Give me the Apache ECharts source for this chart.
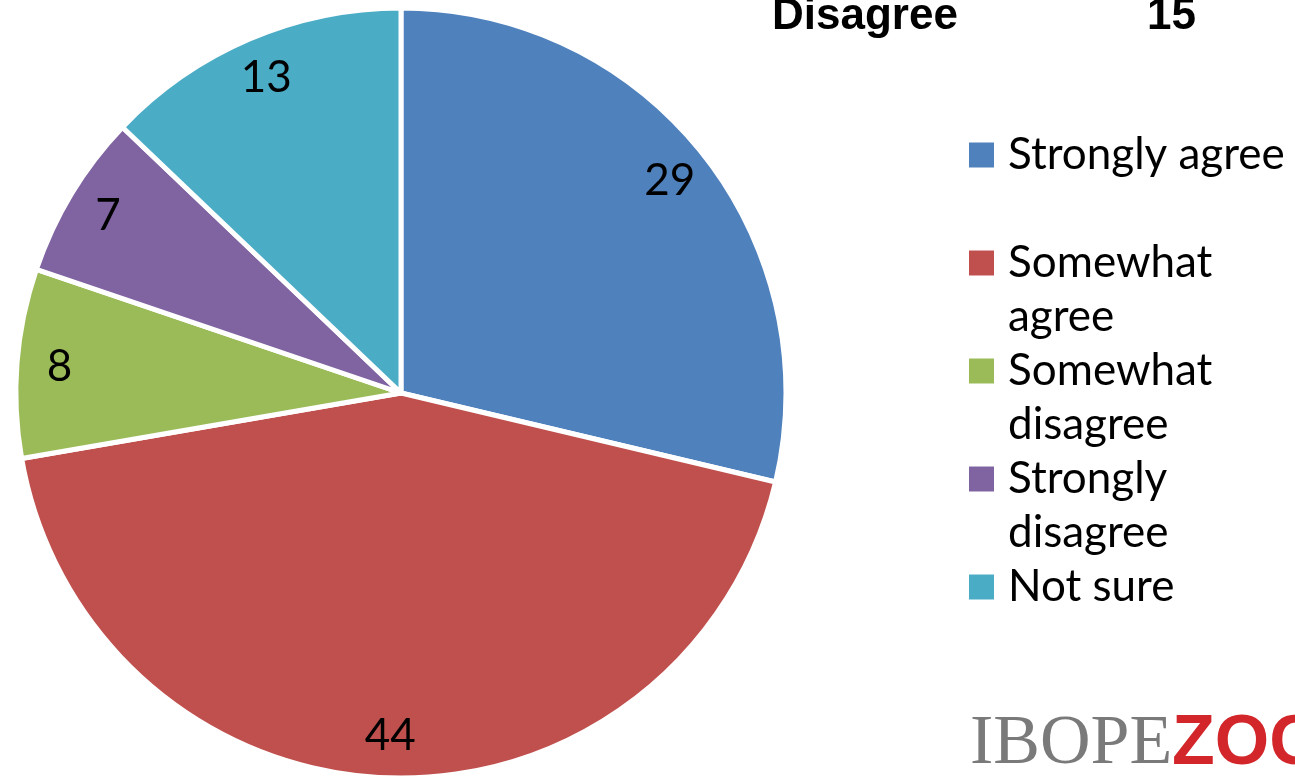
<!DOCTYPE html>
<html>
<head>
<meta charset="utf-8">
<script src="https://cdn.jsdelivr.net/npm/echarts@6/dist/echarts.min.js"></script>
<style>
html, body { margin: 0; padding: 0; background: #fff; }
#chart { width: 1295px; height: 778px; }
</style>
</head>
<body>
<div id="chart"></div>
<script>
var categories = ['Strongly agree', 'Somewhat agree', 'Somewhat disagree', 'Strongly disagree', 'Not sure'];
var legendLines = [['Strongly agree'], ['Somewhat', 'agree'], ['Somewhat', 'disagree'], ['Strongly', 'disagree'], ['Not sure']];
var values = [29, 44, 8, 7, 13];
var colors = ['#4F81BD', '#C0504D', '#9BBB59', '#8064A2', '#4BACC6'];
var headerLabel = 'Disagree';
var headerValue = '15';

var font = 'Lato';

var pieData = categories.map(function (name, i) {
    return { name: name, value: values[i], itemStyle: { color: colors[i] } };
});

var myChart = echarts.init(document.getElementById('chart'));

var option = {
    animation: false,
    legend: {
        orient: 'vertical',
        left: 967,
        top: 74,
        padding: 0,
        itemWidth: 27,
        itemHeight: 27,
        itemGap: -54,
        icon: 'rect',
        selectedMode: false,
        data: categories,
        formatter: function (name) {
            var l = legendLines[categories.indexOf(name)];
            return '\n' + l.join('\n') + (l.length === 1 ? '\n' : '');
        },
        textStyle: {
            fontFamily: font,
            fontSize: 44,
            lineHeight: 54,
            color: '#000',
            padding: [0, 0, 0, 8]
        }
    },
    graphic: [
        {
            type: 'text',
            x: 772,
            y: 17,
            style: {
                text: headerLabel,
                font: 'bold 44px "Liberation Sans"',
                fill: '#000',
                verticalAlign: 'middle'
            }
        },
        {
            type: 'text',
            x: 1147,
            y: 17,
            style: {
                text: headerValue,
                font: 'bold 44px "Liberation Sans"',
                fill: '#000',
                verticalAlign: 'middle'
            }
        },
        {
            type: 'text',
            x: 970,
            y: 745,
            style: {
                text: 'IBOPE',
                font: '70px "Liberation Serif"',
                fill: '#7a7a7a',
                verticalAlign: 'middle'
            }
        },
        {
            type: 'text',
            x: 1172,
            y: 745,
            style: {
                text: 'ZOG',
                font: 'bold 70px "Liberation Sans"',
                fill: '#d3262b',
                verticalAlign: 'middle'
            }
        }
    ],
    series: [
        {
            type: 'pie',
            center: [401, 393],
            radius: [0, 385],
            startAngle: 90,
            clockwise: true,
            silent: true,
            label: { show: false },
            labelLine: { show: false },
            itemStyle: { borderColor: '#fff', borderWidth: 5 },
            data: pieData
        },
        {
            type: 'pie',
            center: [401, 393],
            radius: [294, 385],
            startAngle: 90,
            clockwise: true,
            silent: true,
            itemStyle: { color: 'rgba(0,0,0,0)', borderWidth: 0 },
            label: {
                show: true,
                position: 'inside',
                formatter: '{c}',
                fontFamily: font,
                fontSize: 44,
                color: '#000'
            },
            labelLine: { show: false },
            data: values.map(function (v, i) { return { name: categories[i], value: v }; })
        }
    ]
};

myChart.setOption(option);
window.onresize = myChart.resize;
</script>
</body>
</html>
